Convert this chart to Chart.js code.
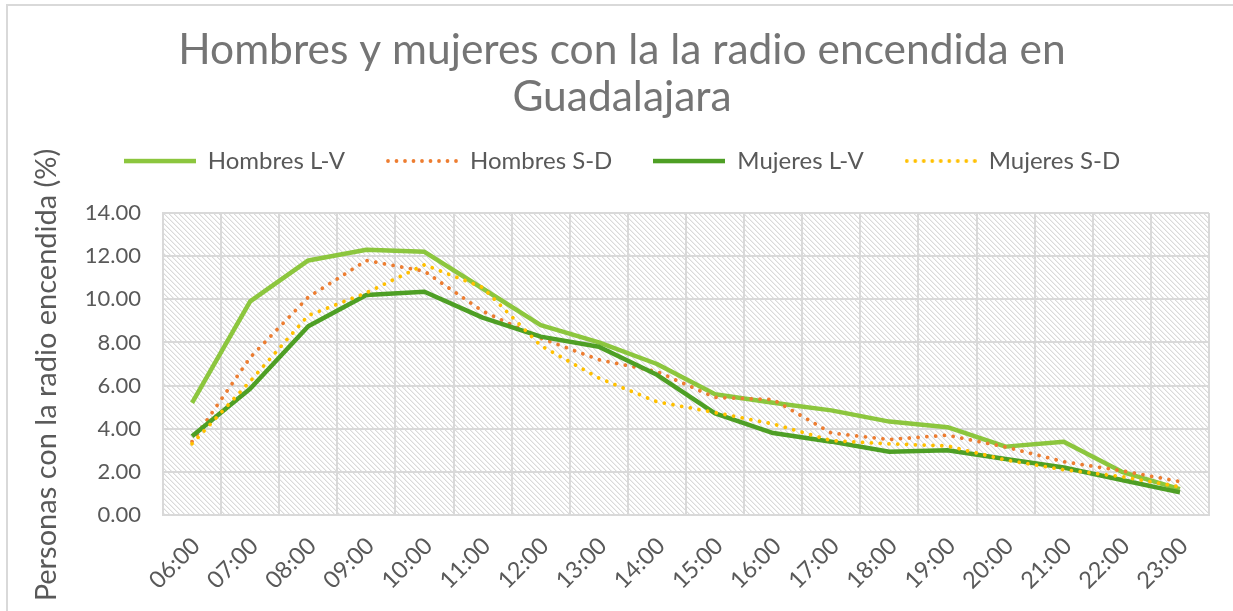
<!DOCTYPE html>
<html>
<head>
<meta charset="utf-8">
<script src="https://cdn.jsdelivr.net/npm/chart.js@4/dist/chart.umd.min.js"></script>
<style>
  html, body { margin: 0; padding: 0; background: #ffffff; }
  #wrap { position: relative; width: 1233px; height: 611px; overflow: hidden; }
  #c { position: absolute; left: 0; top: 0; }
  .bt { position: absolute; left: 7px; top: 4px; width: 1226px; height: 2px; background: #d9d9d9; }
  .bl { position: absolute; left: 6px; top: 4px; width: 2px; height: 607px; background: #d9d9d9; }
</style>
</head>
<body>
<div id="wrap">
  <canvas id="c" width="1233" height="611"></canvas>
  <div class="bt"></div>
  <div class="bl"></div>
</div>
<script>
const categories = ['06:00','07:00','08:00','09:00','10:00','11:00','12:00','13:00','14:00','15:00','16:00','17:00','18:00','19:00','20:00','21:00','22:00','23:00'];
const hombresLV = [5.2, 9.9, 11.8, 12.3, 12.2, 10.5, 8.8, 8.0, 7.0, 5.6, 5.2, 4.85, 4.33, 4.07, 3.17, 3.4, 2.0, 1.2];
const hombresSD = [3.4, 7.3, 10.1, 11.8, 11.3, 9.45, 8.2, 7.2, 6.65, 5.45, 5.35, 3.8, 3.5, 3.7, 3.15, 2.47, 2.05, 1.55];
const mujeresLV = [3.65, 5.85, 8.75, 10.2, 10.35, 9.15, 8.27, 7.8, 6.5, 4.71, 3.8, 3.4, 2.93, 3.0, 2.6, 2.2, 1.62, 1.05];
const mujeresSD = [3.3, 6.2, 9.25, 10.3, 11.6, 10.55, 7.85, 6.35, 5.25, 4.75, 4.22, 3.45, 3.3, 3.2, 2.55, 2.1, 1.78, 1.3];
const seriesNames = ['Hombres L-V', 'Hombres S-D', 'Mujeres L-V', 'Mujeres S-D'];
const titleLines = ['Hombres y mujeres con la la radio encendida en', 'Guadalajara'];
const yTitle = 'Personas con la radio encendida (%)';

const FONT = 'Lato';
const TEXT = '#595959';
const GRID = '#d9d9d9';

// hatched plot background
function makePattern(ctx) {
  const t = document.createElement('canvas');
  t.width = 5; t.height = 5;
  const g = t.getContext('2d');
  g.fillStyle = '#ffffff';
  g.fillRect(0, 0, 5, 5);
  for (let i = 0; i < 5; i++) {
    g.fillStyle = '#dadada';
    g.fillRect(i, i, 1, 1);
    g.fillStyle = '#efefef';
    g.fillRect((i + 1) % 5, i, 1, 1);
  }
  return ctx.createPattern(t, 'repeat');
}
const hatch = {
  id: 'hatch',
  beforeDraw(chart) {
    const a = chart.chartArea;
    const ctx = chart.ctx;
    ctx.save();
    ctx.fillStyle = makePattern(ctx);
    ctx.fillRect(a.left, a.top, a.right - a.left, a.bottom - a.top);
    ctx.restore();
  }
};

// legend sample images
function legendSample(color, dotted) {
  const c = document.createElement('canvas');
  c.width = 72; c.height = 6;
  const g = c.getContext('2d');
  g.fillStyle = color;
  if (dotted) {
    for (let x = 2; x <= 70; x += 8.5) {
      g.beginPath();
      g.arc(x, 3, 1.9, 0, Math.PI * 2);
      g.fill();
    }
  } else {
    g.fillRect(0, 0.8, 72, 4.5);
  }
  return c;
}

// fixed legend box height (space between legend and plot)
const legendHeight = {
  id: 'legendHeight',
  beforeLayout(chart) {
    const lg = chart.legend;
    if (lg && !lg._fixedH) {
      const orig = lg.fit;
      lg.fit = function () { orig.call(this); this.height = 105; };
      lg._fixedH = true;
    }
  }
};

// vertical axis title
const yAxisTitle = {
  id: 'yAxisTitle',
  afterDraw(chart) {
    const ctx = chart.ctx;
    ctx.save();
    ctx.translate(47, 375);
    ctx.rotate(-Math.PI / 2);
    ctx.textAlign = 'center';
    ctx.textBaseline = 'middle';
    ctx.fillStyle = TEXT;
    ctx.font = '29px ' + FONT;
    ctx.fillText(yTitle, 0, 0);
    ctx.restore();
  }
};

function ds(label, data, color, dotted, order) {
  return {
    label, data,
    borderColor: color,
    backgroundColor: color,
    borderWidth: dotted ? 3.8 : 4.5,
    borderDash: dotted ? [0.01, 8.8] : [],
    borderCapStyle: dotted ? 'round' : 'butt',
    borderJoinStyle: 'round',
    pointRadius: 0,
    pointHoverRadius: 0,
    pointStyle: legendSample(color, dotted),
    tension: 0,
    fill: false,
    order
  };
}

new Chart(document.getElementById('c'), {
  type: 'line',
  data: {
    labels: categories,
    datasets: [
      ds(seriesNames[0], hombresLV, '#8cc63e', false, 3),
      ds(seriesNames[1], hombresSD, '#ed7d31', true, 2),
      ds(seriesNames[2], mujeresLV, '#4e9f25', false, 1),
      ds(seriesNames[3], mujeresSD, '#ffc000', true, 0)
    ]
  },
  options: {
    responsive: false,
    animation: false,
    devicePixelRatio: 1,
    layout: { padding: { left: 35, right: 24, top: 0, bottom: 0 } },
    plugins: {
      title: {
        display: true,
        text: titleLines,
        color: '#757575',
        font: { family: FONT, size: 42.5, weight: 'normal', lineHeight: 47 / 42.5 },
        padding: { top: 27, bottom: -13 }
      },
      legend: {
        display: true,
        labels: {
          color: TEXT,
          font: { family: FONT, size: 24 },
          usePointStyle: true,
          pointStyleWidth: 72,
          boxWidth: 72,
          boxHeight: 6,
          padding: 41,
          sort: (a, b) => a.datasetIndex - b.datasetIndex
        }
      },
      tooltip: { enabled: false }
    },
    scales: {
      x: {
        offset: true,
        grid: { offset: true, color: GRID, lineWidth: 2, drawTicks: false },
        border: { color: GRID, width: 2 },
        ticks: { color: TEXT, font: { family: FONT, size: 23.5 }, minRotation: 45, maxRotation: 45, padding: 17, labelOffset: 4 },
        afterFit(scale) { scale.height = 96; scale.paddingLeft = 0; scale.paddingRight = 0; }
      },
      y: {
        min: 0, max: 14,
        grid: { color: GRID, lineWidth: 2, drawTicks: false },
        border: { color: GRID, width: 2 },
        ticks: { stepSize: 2, color: TEXT, font: { family: FONT, size: 22 }, padding: 22,
          callback: v => Number(v).toFixed(2) },
        title: { display: false },
        afterFit(scale) { scale.width = 128; }
      }
    }
  },
  plugins: [hatch, legendHeight, yAxisTitle]
});
</script>
</body>
</html>
